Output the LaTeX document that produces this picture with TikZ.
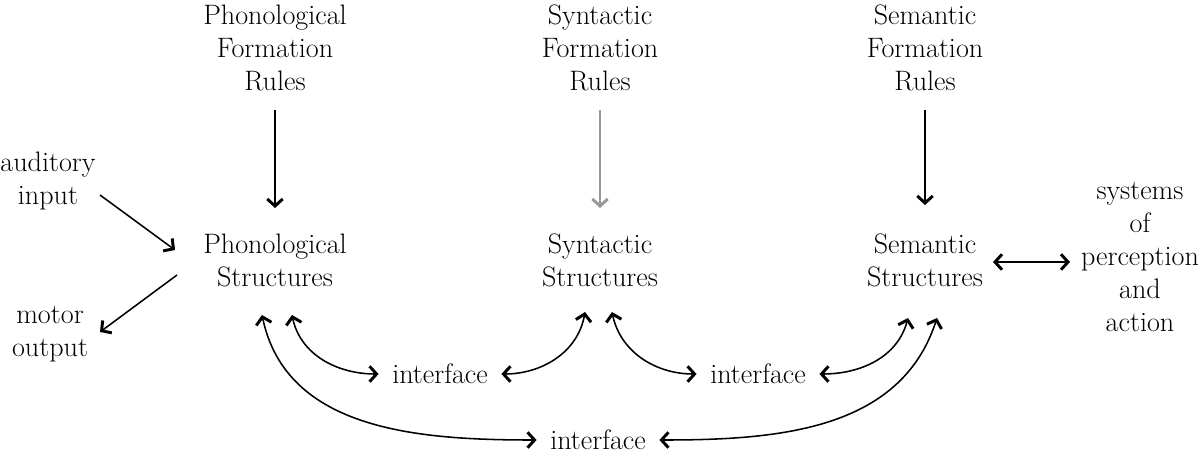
\documentclass[tikz,border=0pt]{standalone}
\usepackage{tikz}
\usetikzlibrary{arrows.meta, positioning, calc}

\tikzset{
  lbl/.style={font=\fontsize{20}{23.5}\selectfont, align=center, inner sep=1pt},
  barb/.style={line width=1.1pt},
  tip/.tip={Straight Barb[length=5pt, width=11pt, line width=2.1pt]},
  link/.style={barb, -tip},
  both/.style={barb, tip-tip}
}

\begin{document}
\begin{tikzpicture}[x=0.025cm, y=0.025cm]
  \useasboundingbox (0,0) rectangle (1200,-459);

  % Formation rules
  \node[lbl] (phr)  at (275,-48) {Phonological\\Formation\\Rules};
  \node[lbl] (synr) at (600,-48) {Syntactic\\Formation\\Rules};
  \node[lbl] (semr) at (925,-48) {Semantic\\Formation\\Rules};

  % Structures
  \node[lbl] (phs)  at (275,-260) {Phonological\\Structures};
  \node[lbl] (syns) at (600,-260) {Syntactic\\Structures};
  \node[lbl] (sems) at (925,-260) {Semantic\\Structures};

  % Outside
  \node[lbl] (aud) at (48,-181) {auditory\\input};
  \node[lbl] (mot) at (50,-334) {motor\\output};
  \node[lbl] (sys) at (1140,-257) {systems\\of\\perception\\and\\action};

  % Interfaces
  \node[lbl] (if1) at (440,-374) {interface};
  \node[lbl] (if2) at (758,-374) {interface};
  \node[lbl] (if3) at (598,-440) {interface};

  % Rules to structures
  \draw[link] ($(phr)+(0,-62)$) -- ($(phs)+(0,52)$);
  \draw[link, line width=0.8pt, draw=black!40] ($(synr)+(0,-62)$) -- ($(syns)+(0,52)$);
  \draw[link] ($(semr)+(0,-62)$) -- ($(sems)+(0,55)$);

  % Input and output
  \draw[link] ($(aud)+(52,-14)$) -- ($(phs)+(-100,10)$);
  \draw[link] ($(phs)+(-98,-15)$) -- ($(mot)+(50,2)$);
  \draw[both] ($(sems)+(68,-2)$) -- ($(sems)+(145,-2)$);

  % Structures to interfaces
  \draw[both] ($(phs)+(-13,-55)$) to[out=-78, in=180] ($(if3.west)+(-12,0)$);
  \draw[both] ($(phs)+(17,-55)$) to[out=-78, in=180] ($(if1.west)+(-12,0)$);
  \draw[both] ($(syns)+(-15,-52)$) to[out=-100, in=0] ($(if1.east)+(12,0)$);
  \draw[both] ($(syns)+(12,-52)$) to[out=-78, in=180] ($(if2.west)+(-12,0)$);
  \draw[both] ($(sems)+(-17,-58)$) to[out=-105, in=0] ($(if2.east)+(12,0)$);
  \draw[both] ($(sems)+(12,-58)$) to[out=-108, in=0] ($(if3.east)+(12,0)$);
\end{tikzpicture}
\end{document}
